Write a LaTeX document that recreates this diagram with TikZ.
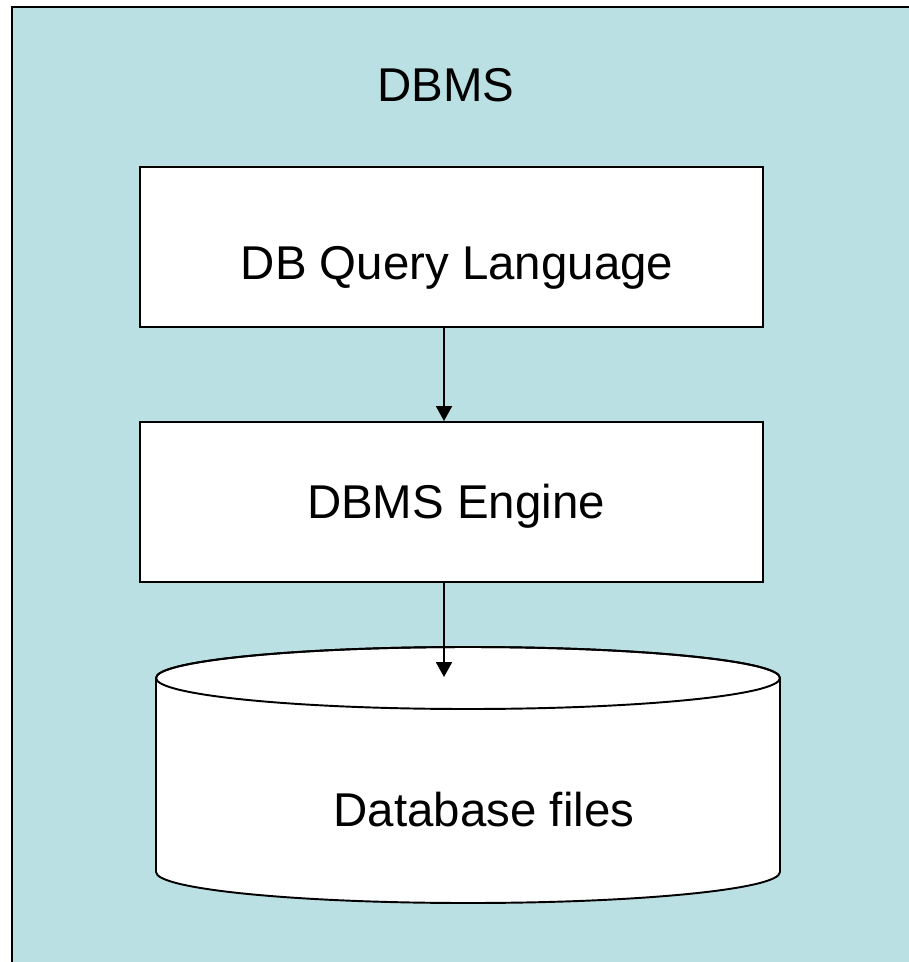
\documentclass[tikz,border=0pt]{standalone}
\usepackage{fontspec}
\setmainfont{Liberation Sans}
\usepackage{tikz}
\usetikzlibrary{arrows.meta}
\usetikzlibrary{positioning}
\definecolor{panel}{RGB}{187,224,227}
\tikzset{
  layer/.style={draw,line width=1.1pt,fill=white,minimum width=12.46cm,minimum height=3.2cm},
  big/.style={font=\fontsize{27}{32}\selectfont,anchor=base},
  flow/.style={line width=1.1pt,-{Triangle[length=0.3cm,width=0.32cm]}}
}
\begin{document}
\begin{tikzpicture}[x=0.02cm,y=-0.02cm]
      \useasboundingbox (0,0) rectangle (908,962);
      \draw[line width=1.1pt,fill=panel] (12,7) rectangle (930,990);
      \node[big](T) at (446,102) {DBMS};
      %%
      \node[layer](Q) at (451.5,247) {};
      \node[big](QT) at (457,280) {DB Query Language};
      \node[layer](E) at (451.5,502) {};
      \node[big](ET) at (456,518) {DBMS Engine};
      %%
      \begin{scope}[line width=1.1pt]
        \draw[fill=white] (156,678) -- (156,872)
             arc[start angle=180,end angle=0,x radius=312,y radius=31]
             -- (780,678)
             arc[start angle=0,end angle=-180,x radius=312,y radius=31] -- cycle;
        \draw (468,678) ellipse [x radius=312,y radius=31];
      \end{scope}
      \coordinate(F) at (444,677);
      \node[big](FT) at (484,826) {Database files};
      %%
      \coordinate(ax) at (444,0);
      \draw[flow] (Q.south -| ax) -- (E.north -| ax);
      \draw[flow] (E.south -| ax) -- (F);
    \end{tikzpicture}
\end{document}
